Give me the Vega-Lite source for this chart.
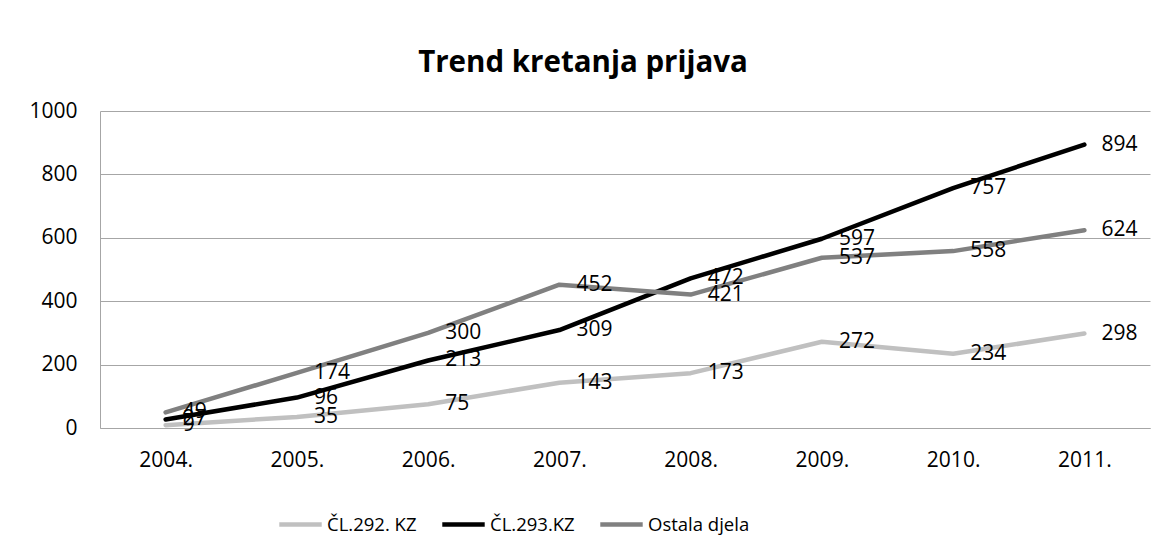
{
  "$schema": "https://vega.github.io/schema/vega-lite/v6.json",
  "width": 1050,
  "height": 317,
  "autosize": {"type": "none"},
  "padding": {"left": 100, "top": 111, "right": 13, "bottom": 129},
  "background": "white",
  "title": {
    "text": "Trend kretanja prijava",
    "fontSize": 29.5,
    "font": "Open Sans",
    "fontWeight": "bold",
    "color": "#000000",
    "anchor": "middle",
    "dx": -42,
    "offset": 22
  },
  "data": {
    "values": [
      {"year": "2004.", "series": "ČL.292. KZ", "value": 9},
      {"year": "2005.", "series": "ČL.292. KZ", "value": 35},
      {"year": "2006.", "series": "ČL.292. KZ", "value": 75},
      {"year": "2007.", "series": "ČL.292. KZ", "value": 143},
      {"year": "2008.", "series": "ČL.292. KZ", "value": 173},
      {"year": "2009.", "series": "ČL.292. KZ", "value": 272},
      {"year": "2010.", "series": "ČL.292. KZ", "value": 234},
      {"year": "2011.", "series": "ČL.292. KZ", "value": 298},
      {"year": "2004.", "series": "ČL.293.KZ", "value": 27},
      {"year": "2005.", "series": "ČL.293.KZ", "value": 96},
      {"year": "2006.", "series": "ČL.293.KZ", "value": 213},
      {"year": "2007.", "series": "ČL.293.KZ", "value": 309},
      {"year": "2008.", "series": "ČL.293.KZ", "value": 472},
      {"year": "2009.", "series": "ČL.293.KZ", "value": 597},
      {"year": "2010.", "series": "ČL.293.KZ", "value": 757},
      {"year": "2011.", "series": "ČL.293.KZ", "value": 894},
      {"year": "2004.", "series": "Ostala djela", "value": 49},
      {"year": "2005.", "series": "Ostala djela", "value": 174},
      {"year": "2006.", "series": "Ostala djela", "value": 300},
      {"year": "2007.", "series": "Ostala djela", "value": 452},
      {"year": "2008.", "series": "Ostala djela", "value": 421},
      {"year": "2009.", "series": "Ostala djela", "value": 537},
      {"year": "2010.", "series": "Ostala djela", "value": 558},
      {"year": "2011.", "series": "Ostala djela", "value": 624}
    ]
  },
  "encoding": {
    "x": {
      "field": "year",
      "type": "ordinal",
      "title": null,
      "scale": {"paddingInner": 0, "paddingOuter": 0.5},
      "axis": {
        "labelAngle": 0,
        "labelFontSize": 21,
        "labelFont": "Open Sans",
        "labelColor": "#000000",
        "labelPadding": 21,
        "ticks": false,
        "domainColor": "#a6a6a6",
        "domainWidth": 1,
        "grid": false
      }
    },
    "y": {
      "field": "value",
      "type": "quantitative",
      "title": null,
      "scale": {"domain": [0, 1000], "nice": false},
      "axis": {
        "values": [0, 200, 400, 600, 800, 1000],
        "format": "d",
        "labelFontSize": 21,
        "labelFont": "Open Sans",
        "labelColor": "#000000",
        "labelPadding": 23,
        "ticks": false,
        "domainColor": "#a6a6a6",
        "gridColor": "#a6a6a6",
        "gridWidth": 1
      }
    }
  },
  "layer": [
    {
      "mark": {"type": "line", "strokeWidth": 4.5, "strokeCap": "round", "strokeJoin": "round"},
      "encoding": {
        "color": {
          "field": "series",
          "type": "nominal",
          "scale": {
            "domain": ["ČL.292. KZ", "ČL.293.KZ", "Ostala djela"],
            "range": ["#c0c0c0", "#000000", "#808080"]
          },
          "legend": {
            "title": null,
            "orient": "none",
            "direction": "horizontal",
            "legendX": 177,
            "legendY": 390,
            "symbolType": "stroke",
            "symbolSize": 1800,
            "symbolStrokeWidth": 4.5,
            "labelFontSize": 18.5,
            "labelFont": "Open Sans",
            "labelColor": "#000000",
            "labelOffset": 3,
            "columnPadding": 16,
            "labelLimit": 300
          }
        }
      }
    },
    {
      "mark": {"type": "text", "align": "left", "baseline": "middle", "dx": 17, "fontSize": 21, "font": "Open Sans", "color": "#000000"},
      "encoding": {
        "text": {"field": "value", "type": "quantitative"}
      }
    }
  ],
  "config": {
    "view": {"stroke": null}
  }
}
